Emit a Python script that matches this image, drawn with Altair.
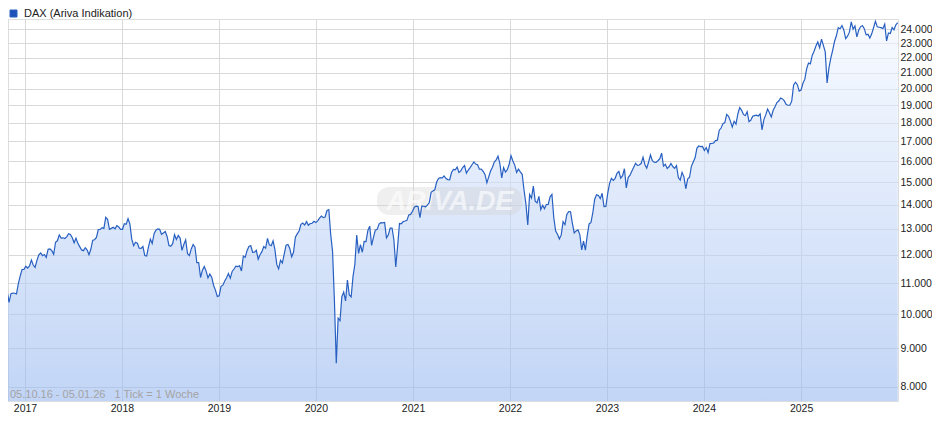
import altair as alt
import pandas as pd

series_name = "DAX (Ariva Indikation)"
info_text = "05.10.16 - 05.01.26\u00a0\u00a0\u00a01 Tick = 1 Woche"
watermark = "ARIVA.DE"

# first weekly tick of each year
year_start = {
    2016: "2016-10-05", 2017: "2017-01-04", 2018: "2018-01-03", 2019: "2019-01-02",
    2020: "2020-01-01", 2021: "2021-01-06", 2022: "2022-01-05", 2023: "2023-01-04",
    2024: "2024-01-03", 2025: "2025-01-01",
}

v2016 = [10585, 10523, 10667, 10710, 10370, 10646, 10663, 10662, 10640, 10986, 11245, 11469, 11475]
v2017 = [11585, 11521, 11599, 11806, 11627, 11543, 11794, 11998, 12067, 11967, 12010, 11905, 12203,
         12218, 12154, 12017, 12472, 12528, 12757, 12631, 12643, 12615, 12678, 12806, 12774, 12647,
         12453, 12627, 12430, 12305, 12181, 12154, 12263, 12174, 12002, 12215, 12553, 12569, 12657,
         12970, 12970, 13043, 13013, 13465, 13382, 12976, 13015, 13061, 12998, 13126, 13069, 12979]
v2018 = [12978, 13202, 13183, 13414, 13189, 12590, 12339, 12470, 12436, 12245, 12237, 12309, 11970,
         11957, 12294, 12590, 12422, 12802, 12944, 12996, 12977, 12783, 12830, 12890, 12695, 12348,
         12318, 12417, 12765, 12579, 12737, 12633, 12163, 12385, 12563, 12040, 11970, 12219, 12385,
         12287, 11712, 11715, 11191, 11447, 11579, 11413, 11181, 11309, 11201, 10929, 10766, 10559]
v2019 = [10580, 10893, 10931, 11072, 11181, 11325, 11167, 11401, 11487, 11587, 11572, 11603, 11419,
         11954, 11905, 12153, 12313, 12345, 12093, 12100, 12168, 11837, 12005, 12116, 12309, 12246,
         12617, 12373, 12341, 12522, 12189, 11650, 11492, 11802, 11701, 12025, 12359, 12389, 12234,
         11925, 12094, 12670, 12798, 12910, 13179, 13230, 13148, 13288, 13140, 13206, 13222, 13300]
v2020 = [13249, 13320, 13432, 13515, 13450, 13479, 13749, 13789, 12774, 12127, 10438, 8600, 9874,
         9800, 10550, 10700, 10415, 11107, 10606, 10542, 11223, 11657, 12750, 12050, 12382, 12094,
         12500, 12494, 12931, 13104, 12350, 12660, 12947, 12977, 13190, 13243, 13238, 13255, 12642,
         12761, 13029, 13029, 12558, 11561, 12324, 13216, 13202, 13290, 13313, 13340, 13566, 13588,
         13719]
v2021 = [13892, 13940, 13921, 13450, 13934, 13932, 13909, 13976, 14080, 14540, 14597, 14662, 15008,
         15176, 15209, 15196, 15292, 15171, 15120, 15113, 15451, 15603, 15581, 15710, 15456, 15531,
         15692, 15789, 15423, 15571, 15692, 15826, 15966, 15861, 15824, 15610, 15617, 15506, 15365,
         14973, 15250, 15522, 15705, 15959, 16067, 16251, 15878, 15200, 15687, 15476, 15593, 15852]
v2022 = [16271, 16010, 15810, 15460, 15613, 15482, 15370, 14631, 14030, 13150, 14441, 14283, 14820,
         14152, 14076, 14362, 13793, 13970, 13828, 14007, 14008, 14340, 14446, 13447, 12912, 12784,
         12595, 12756, 13282, 13166, 13587, 13700, 13697, 13220, 12835, 12916, 12956, 12767, 12183,
         12517, 12172, 12742, 13195, 13257, 13666, 14234, 14427, 14397, 14261, 14497, 13914, 13925]
v2023 = [14490, 14948, 15181, 15082, 15180, 15412, 15506, 15190, 15305, 15632, 14735, 15216, 15329,
         15520, 15704, 15896, 15796, 15815, 15897, 16200, 15843, 15664, 15960, 16310, 16023, 15949,
         15938, 16023, 16125, 16400, 15762, 15852, 15650, 15729, 15891, 15741, 15654, 15782, 15217,
         15099, 15460, 15250, 14700, 15144, 15229, 15748, 15958, 16166, 16656, 16766, 16733, 16742]
v2024 = [16538, 16689, 16432, 16890, 16904, 16922, 17047, 17068, 17601, 17717, 17961, 18015, 18477,
         18367, 18098, 17770, 18089, 17932, 18498, 18869, 18726, 18473, 18406, 18630, 18068, 18155,
         18374, 18407, 18437, 18387, 18509, 17615, 18183, 18448, 18782, 18576, 18330, 18711, 18918,
         19164, 19254, 19432, 19377, 19257, 19039, 19003, 19005, 19261, 20232, 20399, 20242, 19849]
v2025 = [19909, 20330, 20575, 21254, 21637, 21585, 22148, 22434, 22794, 23081, 22676, 23288, 22839,
         22390, 20356, 21311, 21962, 22497, 23116, 23527, 24122, 24038, 24276, 23949, 23317, 23498,
         23790, 24550, 24009, 24240, 23450, 23925, 24185, 24277, 24046, 23595, 23632, 23359, 23666,
         24113, 24597, 24181, 24151, 24124, 24049, 24381, 23162, 23727, 23693, 24130, 23961, 24340,
         24490]

values_by_year = {2016: v2016, 2017: v2017, 2018: v2018, 2019: v2019, 2020: v2020,
                  2021: v2021, 2022: v2022, 2023: v2023, 2024: v2024, 2025: v2025}

y_ticks = [8000, 9000, 10000, 11000, 12000, 13000, 14000, 15000, 16000, 17000, 18000,
           19000, 20000, 21000, 22000, 23000, 24000]
x_years = [2017, 2018, 2019, 2020, 2021, 2022, 2023, 2024, 2025]
y_domain = [7656, 24772]

rows = []
for yr, vals in values_by_year.items():
    dates = pd.date_range(year_start[yr], periods=len(vals), freq="7D")
    for d, v in zip(dates, vals):
        rows.append({"date": d.strftime("%Y-%m-%d"), "value": v, "series": series_name})
df = pd.DataFrame(rows)

FONT = "Liberation Sans"

x_enc = alt.X(
    "date:T",
    scale=alt.Scale(type="utc", domain=[alt.DateTime(year=2016, month=10, date=29, utc=True),
                                        alt.DateTime(year=2026, month=1, date=1, utc=True)]),
    axis=alt.Axis(values=[alt.DateTime(year=y, month=1, date=1, utc=True) for y in x_years],
                  format="%Y", formatType="utc", title=None, grid=True, ticks=False, domain=False,
                  labelPadding=2, labelFontSize=10.5, labelFont=FONT, labelColor="#222222",
                  labelFlush=False, labelOverlap=False, gridColor="#d9d9d9"),
)
y_enc = alt.Y(
    "value:Q",
    scale=alt.Scale(type="log", domain=y_domain),
    axis=alt.Axis(orient="right", values=y_ticks, title=None, grid=True, ticks=False, domain=False,
                  labelPadding=2, labelFontSize=10.5, labelFont=FONT, labelColor="#222222",
                  labelOverlap=False, labelFlush=False, gridColor="#d9d9d9",
                  labelExpr="replace(format(datum.value, ',d'), ',', '.')"),
)

gradient = alt.Gradient(
    gradient="linear",
    stops=[alt.GradientStop(color="#f3f8ff", offset=0), alt.GradientStop(color="#99b9f0", offset=1)],
    x1=1, x2=1, y1=0, y2=1,
)

area = alt.Chart(df).mark_area(color=gradient, fillOpacity=0.6, clip=True).encode(
    x=x_enc, y=y_enc, y2=alt.datum(y_domain[0])
)

wm_df = pd.DataFrame({"t": [watermark]})
wm_box = alt.Chart(wm_df).mark_rect(cornerRadius=12, color="#d0d0d0", opacity=0.35).encode(
    x=alt.value(369), x2=alt.value(514), y=alt.value(168), y2=alt.value(196)
)
wm_text = alt.Chart(wm_df).mark_text(
    font=FONT, fontSize=27, fontStyle="italic", fontWeight="bold", color="#ffffff", opacity=0.6,
    align="center", baseline="middle"
).encode(x=alt.value(442), y=alt.value(183), text="t:N")

line = alt.Chart(df).mark_line(strokeWidth=1.2, clip=True).encode(
    x=x_enc, y=y_enc,
    color=alt.Color("series:N", scale=alt.Scale(range=["#2860c2"]),
                    legend=alt.Legend(orient="none", legendX=0, legendY=-11, title=None,
                                      symbolType="square", symbolSize=49,
                                      symbolFillColor="#1e50b8", symbolStrokeColor="#17388a",
                                      symbolStrokeWidth=1, labelFont=FONT, labelFontSize=11,
                                      labelColor="#222222", labelOffset=5, padding=0)),
)

info = alt.Chart(pd.DataFrame({"t": [info_text]})).mark_text(
    font=FONT, fontSize=11, color="#a3a3a3", align="left", baseline="middle"
).encode(x=alt.value(2), y=alt.value(376), text="t:N")

chart = alt.layer(area, wm_box, wm_text, line, info).properties(
    width=890, height=382,
    autosize=alt.AutoSizeParams(type="none"),
    padding={"left": 0, "top": 11, "right": 34, "bottom": 17},
).configure_view(stroke="#d4d4d4", strokeWidth=1).configure(background="white")

chart.save("out.html", embed_options={"renderer": "svg", "actions": False})
